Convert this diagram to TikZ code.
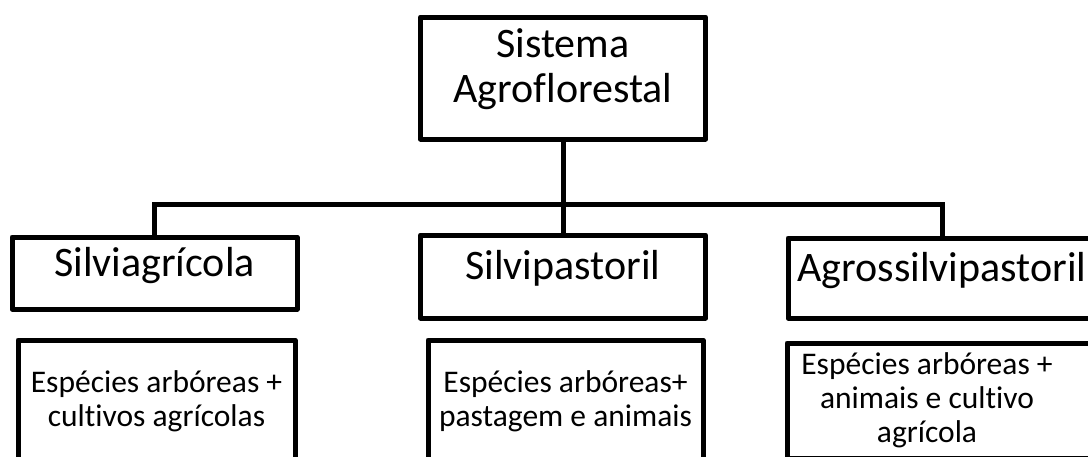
\documentclass[tikz,border=0pt]{standalone}
\usepackage{fontspec}
\setmainfont{Carlito}[Ligatures=NoCommon]
\usepackage{tikz}

\tikzset{
    box/.style={draw,line width=5pt,line join=round,inner sep=0pt,align=center},
    bigtext/.style={font=\fontsize{42}{45}\selectfont},
    smalltext/.style={font=\fontsize{31.5}{34}\selectfont},
    link/.style={line width=5pt},
}

\begin{document}
\begin{tikzpicture}[x=1pt,y=-1pt]
            \useasboundingbox (0,0) rectangle (1088,456);
            \clip (0,0) rectangle (1088,456);

            \node[box,bigtext,minimum width=285pt,minimum height=122pt,text depth=25pt] (sys) at (563,78) {Sistema\\Agroflorestal};

            \node[box,bigtext,minimum width=285pt,minimum height=72pt,text height=24pt,text depth=18pt] (silvagr) at (154.5,273) {Silviagrícola};
            \node[box,bigtext,minimum width=285pt,minimum height=83pt,text height=24pt,text depth=18pt] (silvpast) at (563,276.5) {Silvipastoril};
            \node[box,bigtext,minimum width=308pt,minimum height=80pt,text height=24pt,text depth=18pt] (agross) at (942,278) {Agrossilvipastoril};

            \node[box,smalltext,minimum width=277pt,minimum height=122pt] (agrdesc) at (156.5,401) {Espécies arbóreas +\\cultivos agrícolas};
            \node[box,smalltext,minimum width=275pt,minimum height=122pt] (pastdesc) at (565.5,401) {Espécies arbóreas+\\pastagem e animais};
            \node[box,minimum width=308pt,minimum height=115pt] (agrossdesc) at (941,400.5) {};
            \node[smalltext,align=center,inner sep=0pt] (agrosstext) at ([xshift=-14pt]agrossdesc.center) {Espécies arbóreas +\\animais e cultivo\\agrícola};

            \coordinate (bar) at (0,204);
            \draw[link](sys)--(silvpast);
            \draw[link](silvagr.north)--(silvagr.north|-bar)--(agross.north|-bar)--(agross.north);

        \end{tikzpicture}
\end{document}
